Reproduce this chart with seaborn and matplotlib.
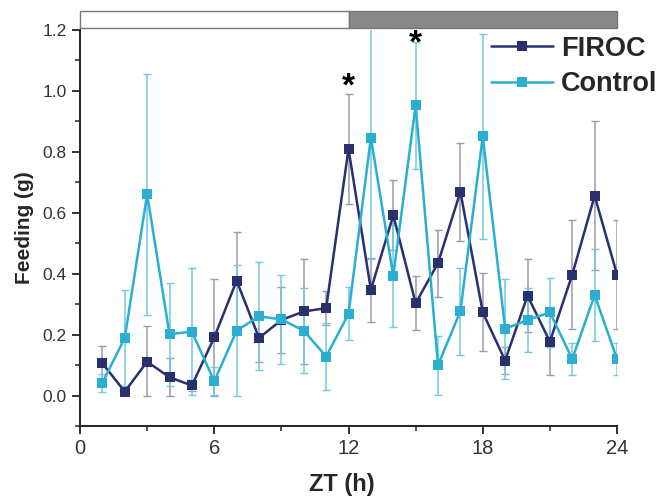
import numpy as np
import pandas as pd
import matplotlib
matplotlib.use("Agg")
import matplotlib.pyplot as plt
from matplotlib.patches import Rectangle
from matplotlib.ticker import MultipleLocator, FormatStrFormatter
import seaborn as sns

# Hourly feeding (g), mean and SEM per zeitgeber hour
zt = list(range(1, 25))
firoc_mean = [0.106, 0.013, 0.111, 0.060, 0.033, 0.191, 0.377, 0.189, 0.248, 0.276, 0.287, 0.810,
              0.347, 0.592, 0.303, 0.435, 0.669, 0.273, 0.115, 0.328, 0.177, 0.397, 0.656, 0.397]
firoc_sem = [0.058, 0.010, 0.116, 0.064, 0.019, 0.192, 0.159, 0.078, 0.109, 0.172, 0.055, 0.180,
             0.106, 0.115, 0.088, 0.110, 0.160, 0.128, 0.045, 0.120, 0.108, 0.180, 0.244, 0.180]
control_mean = [0.042, 0.189, 0.661, 0.201, 0.210, 0.047, 0.213, 0.260, 0.250, 0.213, 0.128, 0.268,
                0.847, 0.393, 0.953, 0.100, 0.277, 0.851, 0.219, 0.248, 0.273, 0.120, 0.330, 0.120]
control_sem = [0.030, 0.158, 0.396, 0.170, 0.209, 0.046, 0.217, 0.177, 0.147, 0.139, 0.110, 0.087,
               0.400, 0.167, 0.208, 0.097, 0.143, 0.337, 0.165, 0.105, 0.112, 0.052, 0.152, 0.052]

groups = ["FIROC", "Control"]
line_colors = {"FIROC": "#28306e", "Control": "#2aaed2"}
err_colors = {"FIROC": "#9a9ab2", "Control": "#72c9e2"}

# significance marks: (hour, height)
star_zt = [12, 15]
star_y = [1.012, 1.155]

# light/dark phases along the top
phase_start = [0, 12]
phase_end = [12, 24]
phase_fill = ["#ffffff", "#888888"]

df = pd.DataFrame({
    "ZT": zt * 2,
    "Feeding": firoc_mean + control_mean,
    "SEM": firoc_sem + control_sem,
    "Group": ["FIROC"] * len(zt) + ["Control"] * len(zt),
})

sns.set_style("ticks")
plt.rcParams["font.family"] = ["Liberation Sans", "DejaVu Sans"]

fig = plt.figure(figsize=(6.69, 4.99), dpi=100)
ax = fig.add_axes([0.1196, 0.1463, 0.8027, 0.7935])

# error bars (clipped at zero below)
for g in groups:
    d = df[df["Group"] == g]
    lower = np.minimum(d["SEM"].values, d["Feeding"].values)
    ax.errorbar(d["ZT"], d["Feeding"], yerr=[lower, d["SEM"].values], fmt="none",
                ecolor=err_colors[g], elinewidth=1.1, capsize=3.2, capthick=1.0, zorder=2)

sns.lineplot(data=df, x="ZT", y="Feeding", hue="Group", hue_order=groups,
             palette=line_colors, marker="s", markersize=7, markeredgewidth=0,
             linewidth=1.8, ax=ax, zorder=3, legend=True)

ax.set_xlim(0, 24)
ax.set_ylim(-0.1, 1.2)
ax.xaxis.set_major_locator(MultipleLocator(6))
ax.xaxis.set_minor_locator(MultipleLocator(3))
ax.yaxis.set_minor_locator(MultipleLocator(0.1))
ax.yaxis.set_major_formatter(FormatStrFormatter("%.1f"))
ax.set_yticks([0.0, 0.2, 0.4, 0.6, 0.8, 1.0, 1.2])

for side in ["top", "right"]:
    ax.spines[side].set_visible(False)
for side in ["left", "bottom"]:
    ax.spines[side].set_linewidth(1.4)
    ax.spines[side].set_color("#222222")
ax.tick_params(which="major", direction="out", length=6, width=1.3,
               colors="#222222", labelcolor="#333333")
ax.tick_params(axis="x", which="major", labelsize=14.5)
ax.tick_params(axis="y", which="major", labelsize=12.5)
ax.tick_params(which="minor", direction="out", length=3.5, width=1.1, colors="#222222")

ax.set_xlabel("ZT (h)", fontsize=17, fontweight="bold", labelpad=11)
ax.xaxis.set_label_coords(0.487, -0.118)
ax.set_ylabel("Feeding (g)", fontsize=15, fontweight="bold", labelpad=6)

# asterisks
for x, y in zip(star_zt, star_y):
    ax.text(x, y, "*", ha="center", va="center", fontsize=24, fontweight="bold", color="black")

# light/dark bar
for x0, x1, c in zip(phase_start, phase_end, phase_fill):
    ax.add_patch(Rectangle((x0, 1.005), x1 - x0, 0.043, transform=ax.get_xaxis_transform(),
                           facecolor=c, edgecolor="#777777", linewidth=1.0, clip_on=False))

leg = ax.legend(loc="upper left", bbox_to_anchor=(0.765, 0.985), frameon=False,
                borderpad=0, borderaxespad=0,
                handlelength=2.3, handletextpad=0.3, labelspacing=0.35,
                prop={"size": 19.5, "weight": "bold"})
for h in leg.get_lines():
    h.set_linewidth(1.8)

fig.savefig("out.png", dpi=100)
